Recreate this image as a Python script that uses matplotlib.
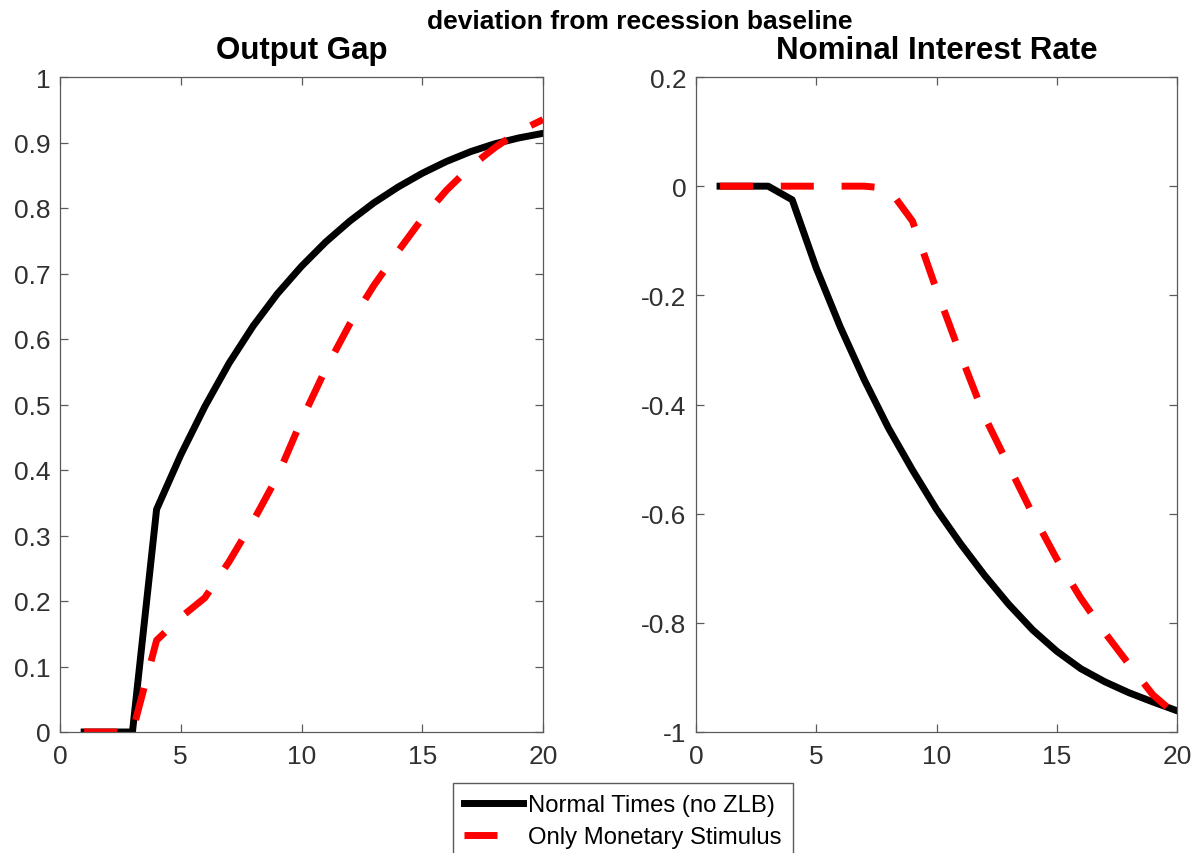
import matplotlib
matplotlib.use("Agg")
import matplotlib.pyplot as plt
import numpy as np

plt.rcParams['font.family'] = ['Liberation Sans', 'DejaVu Sans']
plt.rcParams['axes.unicode_minus'] = False

periods = list(range(1, 21))

gap_normal = [0, 0, 0, 0.34, 0.423, 0.497, 0.563, 0.620, 0.669, 0.711,
              0.748, 0.780, 0.808, 0.832, 0.853, 0.871, 0.886, 0.898, 0.907, 0.914]
gap_monetary = [0, 0, 0, 0.14, 0.175, 0.205, 0.26, 0.322, 0.39, 0.476,
                0.554, 0.623, 0.682, 0.734, 0.784, 0.827, 0.863, 0.892, 0.917, 0.935]

rate_normal = [0, 0, 0, -0.025, -0.15, -0.258, -0.355, -0.443, -0.52, -0.592,
               -0.655, -0.713, -0.766, -0.813, -0.852, -0.884, -0.908, -0.928, -0.945, -0.961]
rate_monetary = [0, 0, 0, 0, 0, 0, 0, -0.004, -0.064, -0.19,
                 -0.309, -0.422, -0.512, -0.601, -0.683, -0.755, -0.818, -0.876, -0.932, -0.97]

series_labels = ["Normal Times (no ZLB)", "Only Monetary Stimulus"]
panel_titles = ["Output Gap", "Nominal Interest Rate"]
suptitle_text = "deviation from recession baseline"

x_ticks = [0, 5, 10, 15, 20]
gap_yticks = [0, 0.1, 0.2, 0.3, 0.4, 0.5, 0.6, 0.7, 0.8, 0.9, 1]
gap_yticklabels = ["0", "0.1", "0.2", "0.3", "0.4", "0.5", "0.6", "0.7", "0.8", "0.9", "1"]
rate_yticks = [-1, -0.8, -0.6, -0.4, -0.2, 0, 0.2]
rate_yticklabels = ["-1", "-0.8", "-0.6", "-0.4", "-0.2", "0", "0.2"]

W, H = 1197, 854
fig = plt.figure(figsize=(W / 100, H / 100), dpi=100)
ax1 = fig.add_axes([60 / W, 1 - 733 / H, 483 / W, 655 / H])
ax2 = fig.add_axes([696 / W, 1 - 733 / H, 481 / W, 655 / H])

spine_col = '#5a5a5a'
tick_col = '#303030'
lw = 5.0
dash = (4.75, 4.0)

def style(ax, yt, ytl, ylim, title):
    ax.set_xlim(0, 20)
    ax.set_ylim(*ylim)
    ax.set_xticks(x_ticks)
    ax.set_xticklabels([str(t) for t in x_ticks])
    ax.set_yticks(yt)
    ax.set_yticklabels(ytl)
    ax.tick_params(direction='in', length=5.5, width=0.9, colors=spine_col,
                   labelcolor=tick_col, labelsize=19, top=True, right=True)
    ax.tick_params(axis='y', pad=7)
    ax.tick_params(axis='x', pad=9)
    for s in ax.spines.values():
        s.set_color(spine_col)
        s.set_linewidth(0.9)
    ax.set_title(title, fontsize=22.5, fontweight='bold', pad=14)

l1, = ax1.plot(periods, gap_normal, color='black', lw=lw, label=series_labels[0])
l2, = ax1.plot(periods, gap_monetary, color='#ff0000', lw=lw, dashes=dash,
               label=series_labels[1])
ax2.plot(periods, rate_normal, color='black', lw=lw)
ax2.plot(periods, rate_monetary, color='#ff0000', lw=lw, dashes=dash)

style(ax1, gap_yticks, gap_yticklabels, (0, 1), panel_titles[0])
style(ax2, rate_yticks, rate_yticklabels, (-1, 0.2), panel_titles[1])

fig.text(640 / W, 1 - 29 / H, suptitle_text, ha='center', va='baseline',
         fontsize=19, fontweight='bold')

leg = fig.legend(handles=[l1, l2], loc='upper center',
                 bbox_to_anchor=(623 / W, 1 - 784 / H), fontsize=17.2,
                 handlelength=2.45, handletextpad=0.25, labelspacing=0.42,
                 borderpad=0.47, fancybox=False, framealpha=1,
                 edgecolor=spine_col, borderaxespad=0)
leg.get_frame().set_linewidth(1.0)

fig.savefig("out.png", dpi=100)
